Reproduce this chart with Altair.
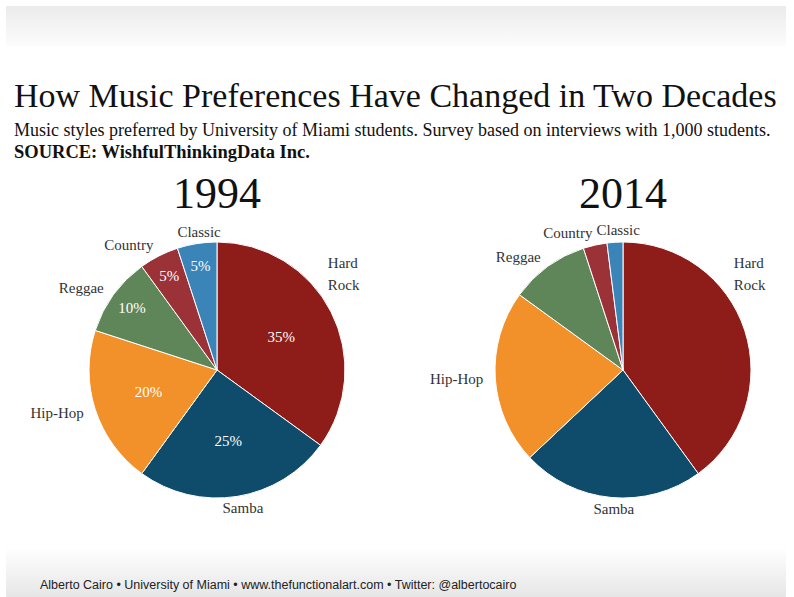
import math
import altair as alt
import pandas as pd

# ---- data ----
categories = ["Hard Rock", "Samba", "Hip-Hop", "Reggae", "Country", "Classic"]
values_1994 = [35, 25, 20, 10, 5, 5]
values_2014 = [40, 23, 22, 10, 3, 2]
colors = ["#8e1c18", "#0f4c6c", "#f2912a", "#5f8658", "#9a3238", "#3a84b8"]
years = ["1994", "2014"]

title_text = "How Music Preferences Have Changed in Two Decades"
subtitle_text = ("Music styles preferred by University of Miami students. "
                 "Survey based on interviews with 1,000 students.")
source_text = "SOURCE: WishfulThinkingData Inc."
footer_text = ("Alberto Cairo \u2022 University of Miami \u2022 "
               "www.thefunctionalart.com \u2022 Twitter: @albertocairo")

rows = []
for yr, vals in zip(years, [values_1994, values_2014]):
    for i, (c, v) in enumerate(zip(categories, vals)):
        rows.append({"year": yr, "category": c, "order": i, "value": v})
df = pd.DataFrame(rows)

SERIF = "Liberation Serif"
W, H = 794, 597
R = 128
theta_scale = alt.Scale(domain=[0, 100], range=[0, 2 * math.pi])
color_scale = alt.Scale(domain=categories, range=colors)


def pie(year, cx, cy, show_pct):
    base = (
        alt.Chart(df)
        .transform_filter(alt.datum.year == year)
        .transform_window(end="sum(value)", sort=[alt.SortField("order")], frame=[None, 0])
        .transform_calculate(
            start="datum.end - datum.value",
            mid="datum.end - datum.value / 2",
            hr="datum.end - datum.value + 13",
            label="replace(datum.category, ' ', '\\n')",
            pct="datum.value + '%'",
        )
    )
    arcs = base.mark_arc(radius=R, stroke="white", strokeWidth=1).encode(
        theta=alt.Theta("start:Q", scale=theta_scale, stack=None),
        theta2="end:Q",
        color=alt.Color("category:N", scale=color_scale, legend=None),
        x=alt.value(cx),
        y=alt.value(cy),
    )
    lab_style = dict(font=SERIF, fontSize=15, color="#333333", baseline="middle", lineBreak="\n")
    right = base.transform_filter(
        alt.FieldOneOfPredicate(field="category", oneOf=["Hip-Hop", "Reggae", "Country"])
    ).mark_text(align="right", radius=140, **lab_style).encode(
        theta=alt.Theta("mid:Q", scale=theta_scale, stack=None),
        text="label:N", x=alt.value(cx), y=alt.value(cy),
    )
    center = base.transform_filter(
        alt.FieldOneOfPredicate(field="category", oneOf=["Samba", "Classic"])
    ).mark_text(align="center", radius=140, dx=4, **lab_style).encode(
        theta=alt.Theta("mid:Q", scale=theta_scale, stack=None),
        text="label:N", x=alt.value(cx), y=alt.value(cy),
    )
    left = base.transform_filter(
        alt.FieldOneOfPredicate(field="category", oneOf=["Hard Rock"])
    ).mark_text(align="left", radius=152, lineHeight=22, dy=-3, **lab_style).encode(
        theta=alt.Theta("hr:Q", scale=theta_scale, stack=None),
        text="label:N", x=alt.value(cx), y=alt.value(cy),
    )
    year_lbl = alt.Chart(pd.DataFrame({"t": [year]})).mark_text(
        font=SERIF, fontSize=44, color="#111111", baseline="middle", align="center"
    ).encode(text="t:N", x=alt.value(cx), y=alt.value(195))
    layers = [arcs, right, center, left, year_lbl]
    if show_pct:
        pct_style = dict(font=SERIF, fontSize=15, color="white", baseline="middle", align="center")
        big = base.transform_filter(alt.datum.value >= 15).mark_text(radius=72, **pct_style).encode(
            theta=alt.Theta("mid:Q", scale=theta_scale, stack=None),
            text="pct:N", x=alt.value(cx), y=alt.value(cy),
        )
        small = base.transform_filter(alt.datum.value < 15).mark_text(radius=105, **pct_style).encode(
            theta=alt.Theta("mid:Q", scale=theta_scale, stack=None),
            text="pct:N", x=alt.value(cx), y=alt.value(cy),
        )
        layers += [big, small]
    return layers


def txt(t, x, y, size, weight="normal", font=SERIF, color="#111111", align="left"):
    return alt.Chart(pd.DataFrame({"t": [t]})).mark_text(
        font=font, fontSize=size, fontWeight=weight, color=color, align=align, baseline="alphabetic"
    ).encode(text="t:N", x=alt.value(x), y=alt.value(y))


top_band = alt.Chart(pd.DataFrame({"a": [0]})).mark_rect(
    fill=alt.LinearGradient(
        gradient="linear",
        stops=[alt.GradientStop(color="#ebebeb", offset=0), alt.GradientStop(color="#fcfcfc", offset=1)],
        x1=0, x2=0, y1=0, y2=1,
    )
).encode(x=alt.value(6), x2=alt.value(786), y=alt.value(6), y2=alt.value(46))

bottom_band = alt.Chart(pd.DataFrame({"a": [0]})).mark_rect(
    fill=alt.LinearGradient(
        gradient="linear",
        stops=[alt.GradientStop(color="#ffffff", offset=0), alt.GradientStop(color="#e6e6e6", offset=1)],
        x1=0, x2=0, y1=0, y2=1,
    )
).encode(x=alt.value(6), x2=alt.value(786), y=alt.value(548), y2=alt.value(597))

layers = [top_band, bottom_band]
layers += pie("1994", 217, 370, True)
layers += pie("2014", 623, 370, False)
layers += [
    txt(title_text, 14, 107, 34),
    txt(subtitle_text, 14, 136, 18),
    txt(source_text, 14, 158, 18.5, weight="bold"),
    txt(footer_text, 40, 589, 12.5, font="Liberation Sans", color="#222222"),
]

chart = (
    alt.layer(*layers)
    .properties(width=W, height=H, autosize=alt.AutoSizeParams(type="none"), padding=0, background="white")
    .configure_view(stroke=None)
)

chart.save("out.html", embed_options={"renderer": "svg", "actions": False})
